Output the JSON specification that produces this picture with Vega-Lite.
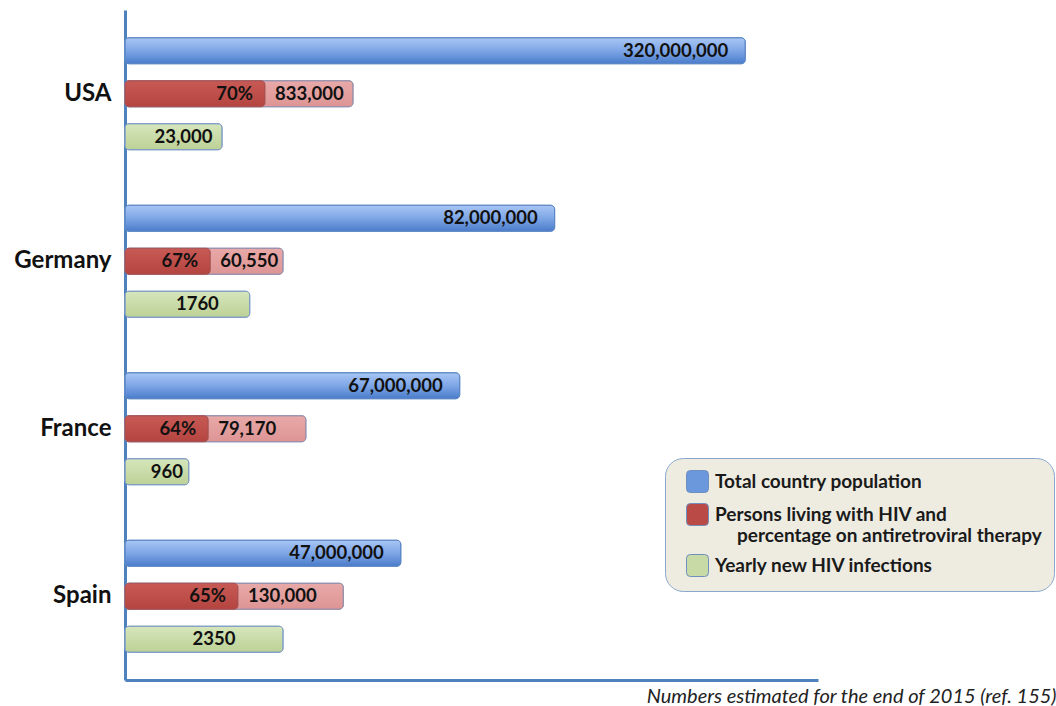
{
  "$schema": "https://vega.github.io/schema/vega-lite/v6.json",
  "width": 693,
  "height": 670,
  "autosize": "none",
  "padding": {"left": 125, "top": 10, "right": 238, "bottom": 26},
  "background": "white",
  "config": {"view": {"stroke": null}, "font": "Lato"},
  "data": {
    "values": [
      {"country": "USA", "series": "Total country population", "value": 320000000, "label": "320,000,000", "drawnLength": 89.5},
      {"country": "USA", "series": "Persons living with HIV and percentage on antiretroviral therapy", "value": 833000, "label": "833,000", "drawnLength": 32.9, "pctLabel": "70%", "pctDrawnLength": 20.2},
      {"country": "USA", "series": "Yearly new HIV infections", "value": 23000, "label": "23,000", "drawnLength": 14.0},
      {"country": "Germany", "series": "Total country population", "value": 82000000, "label": "82,000,000", "drawnLength": 62.0},
      {"country": "Germany", "series": "Persons living with HIV and percentage on antiretroviral therapy", "value": 60550, "label": "60,550", "drawnLength": 22.8, "pctLabel": "67%", "pctDrawnLength": 12.3},
      {"country": "Germany", "series": "Yearly new HIV infections", "value": 1760, "label": "1760", "drawnLength": 18.0},
      {"country": "France", "series": "Total country population", "value": 67000000, "label": "67,000,000", "drawnLength": 48.3},
      {"country": "France", "series": "Persons living with HIV and percentage on antiretroviral therapy", "value": 79170, "label": "79,170", "drawnLength": 26.1, "pctLabel": "64%", "pctDrawnLength": 12.0},
      {"country": "France", "series": "Yearly new HIV infections", "value": 960, "label": "960", "drawnLength": 9.2},
      {"country": "Spain", "series": "Total country population", "value": 47000000, "label": "47,000,000", "drawnLength": 39.8},
      {"country": "Spain", "series": "Persons living with HIV and percentage on antiretroviral therapy", "value": 130000, "label": "130,000", "drawnLength": 31.5, "pctLabel": "65%", "pctDrawnLength": 16.3},
      {"country": "Spain", "series": "Yearly new HIV infections", "value": 2350, "label": "2350", "drawnLength": 22.8}
    ]
  },
  "encoding": {
    "y": {
      "field": "country", "type": "nominal",
      "sort": ["USA", "Germany", "France", "Spain"],
      "scale": {"paddingInner": 0, "paddingOuter": 0},
      "axis": {
        "title": null, "ticks": false, "domainColor": "#4f81bd", "domainWidth": 3,
        "labelFont": "Lato", "labelFontWeight": "bold", "labelFontSize": 24, "labelColor": "#111111",
        "labelPadding": 14, "grid": false
      }
    },
    "yOffset": {
      "field": "series", "type": "nominal",
      "scale": {
        "domain": ["Total country population", "Persons living with HIV and percentage on antiretroviral therapy", "Yearly new HIV infections"],
        "paddingInner": 0.395, "paddingOuter": 0.645
      }
    }
  },
  "resolve": {"scale": {"x": "independent"}},
  "layer": [
    {
      "mark": {"type": "bar", "cornerRadius": 4, "stroke": "#7f9cc6", "strokeWidth": 1},
      "encoding": {
        "x": {
          "field": "drawnLength", "type": "quantitative",
          "scale": {"domain": [0, 100]},
          "axis": {
            "labels": false, "ticks": false, "grid": false,
            "domainColor": "#4f81bd", "domainWidth": 3,
            "title": "Numbers estimated for the end of 2015 (ref. 155)",
            "titleFont": "Lato", "titleFontStyle": "italic", "titleFontWeight": "normal",
            "titleFontSize": 20, "titleColor": "#222222",
            "titleX": 931, "titleY": 22, "titleAlign": "right", "titleBaseline": "alphabetic", "titleAnchor": null
          }
        },
        "color": {
          "field": "series", "type": "nominal",
          "scale": {
            "domain": ["Total country population", "Persons living with HIV and percentage on antiretroviral therapy", "Yearly new HIV infections"],
            "range": ["#6b97dd", "#b94a46", "#c8dba6"]
          },
          "legend": {
            "title": null,
            "orient": "none", "legendX": 540, "legendY": 448,
            "fillColor": "#eeece1", "strokeColor": "#8aa8cc", "cornerRadius": 18, "padding": 12,
            "symbolType": "M-1,-0.65 Q-1,-1 -0.65,-1 L0.65,-1 Q1,-1 1,-0.65 L1,0.65 Q1,1 0.65,1 L-0.65,1 Q-1,1 -1,0.65 Z",
            "symbolSize": 484, "symbolStrokeColor": "#6f8fbf", "symbolStrokeWidth": 1, "symbolOpacity": 1,
            "symbolOffset": 9, "labelOffset": 6,
            "labelFont": "Lato", "labelFontWeight": "bold", "labelFontSize": 19, "labelColor": "#1a1a1a",
            "labelLimit": 0, "rowPadding": 6,
            "labelExpr": "datum.label == 'Persons living with HIV and percentage on antiretroviral therapy' ? ['Persons living with HIV and', '\u200d\u2007\u2007percentage on antiretroviral therapy'] : datum.label"
          }
        }
      }
    },
    {
      "transform": [{"filter": "datum.series === 'Total country population'"}],
      "mark": {
        "type": "bar", "cornerRadius": 4, "stroke": "#5b87c5", "strokeWidth": 1,
        "color": {"gradient": "linear", "x1": 0, "y1": 0, "x2": 0, "y2": 1, "stops": [{"offset": 0, "color": "#a9c6f5"}, {"offset": 0.5, "color": "#7ea6e6"}, {"offset": 1, "color": "#4a7ccb"}]}
      },
      "encoding": {"x": {"field": "drawnLength", "type": "quantitative", "scale": {"domain": [0, 100]}, "axis": null}}
    },
    {
      "transform": [{"filter": "datum.series === 'Yearly new HIV infections'"}],
      "mark": {
        "type": "bar", "cornerRadius": 4, "stroke": "#7f9cc6", "strokeWidth": 1,
        "color": {"gradient": "linear", "x1": 0, "y1": 0, "x2": 0, "y2": 1, "stops": [{"offset": 0, "color": "#d6e6bb"}, {"offset": 1, "color": "#bcd196"}]}
      },
      "encoding": {"x": {"field": "drawnLength", "type": "quantitative", "scale": {"domain": [0, 100]}, "axis": null}}
    },
    {
      "transform": [{"filter": "isValid(datum.pctDrawnLength)"}],
      "mark": {
        "type": "bar", "cornerRadius": 4, "stroke": "#9b8fa8", "strokeWidth": 1,
        "color": {"gradient": "linear", "x1": 0, "y1": 0, "x2": 0, "y2": 1, "stops": [{"offset": 0, "color": "#e8a9a8"}, {"offset": 1, "color": "#dd9594"}]}
      },
      "encoding": {"x": {"field": "drawnLength", "type": "quantitative", "scale": {"domain": [0, 100]}, "axis": null}}
    },
    {
      "transform": [{"filter": "isValid(datum.pctDrawnLength)"}],
      "mark": {
        "type": "bar", "cornerRadius": 4, "stroke": "#a85250", "strokeWidth": 1,
        "color": {"gradient": "linear", "x1": 0, "y1": 0, "x2": 0, "y2": 1, "stops": [{"offset": 0, "color": "#c85a56"}, {"offset": 1, "color": "#b4443f"}]}
      },
      "encoding": {"x": {"field": "pctDrawnLength", "type": "quantitative", "scale": {"domain": [0, 100]}, "axis": null}}
    },
    {
      "transform": [{"filter": "datum.series === 'Total country population'"}],
      "mark": {"type": "text", "align": "right", "baseline": "middle", "dx": -17, "font": "Lato", "fontWeight": "bold", "fontSize": 18.5, "color": "#111111"},
      "encoding": {"x": {"field": "drawnLength", "type": "quantitative", "scale": {"domain": [0, 100]}, "axis": null}, "text": {"field": "label"}}
    },
    {
      "transform": [{"filter": "isValid(datum.pctDrawnLength)"}],
      "mark": {"type": "text", "align": "right", "baseline": "middle", "dx": -12, "font": "Lato", "fontWeight": "bold", "fontSize": 18.5, "color": "#111111"},
      "encoding": {"x": {"field": "pctDrawnLength", "type": "quantitative", "scale": {"domain": [0, 100]}, "axis": null}, "text": {"field": "pctLabel"}}
    },
    {
      "transform": [{"filter": "isValid(datum.pctDrawnLength)"}],
      "mark": {"type": "text", "align": "left", "baseline": "middle", "dx": 10, "font": "Lato", "fontWeight": "bold", "fontSize": 18.5, "color": "#111111"},
      "encoding": {"x": {"field": "pctDrawnLength", "type": "quantitative", "scale": {"domain": [0, 100]}, "axis": null}, "text": {"field": "label"}}
    },
    {
      "transform": [{"filter": "datum.series === 'Yearly new HIV infections'"}],
      "mark": {"type": "text", "align": "center", "baseline": "middle", "dx": 10, "font": "Lato", "fontWeight": "bold", "fontSize": 18.5, "color": "#111111"},
      "encoding": {"x": {"field": "drawnLength", "type": "quantitative", "scale": {"domain": [0, 200]}, "axis": null}, "text": {"field": "label"}}
    }
  ]
}
